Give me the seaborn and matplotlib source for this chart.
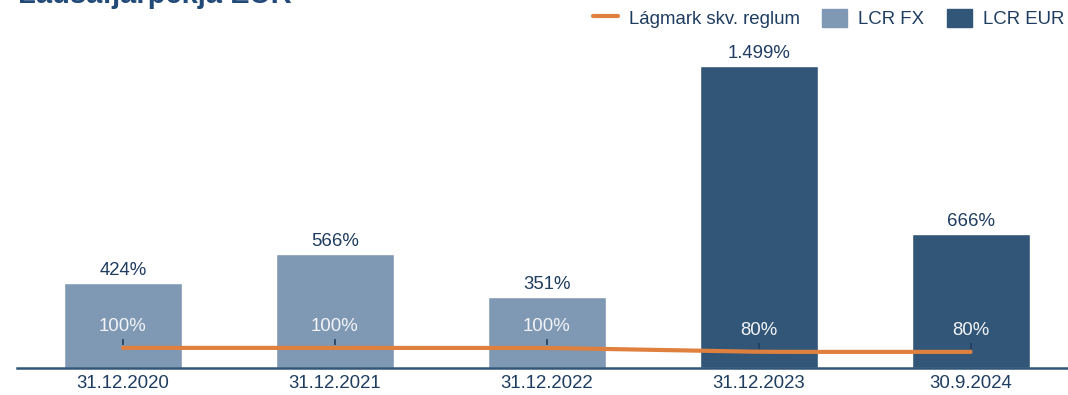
import matplotlib
matplotlib.use("Agg")
import matplotlib.pyplot as plt
import seaborn as sns
import pandas as pd
import numpy as np
from matplotlib.patches import Patch
from matplotlib.lines import Line2D

sns.set_theme(style="white")
plt.rcParams["font.family"] = ["Liberation Sans", "DejaVu Sans"]

# Data
dates = ["31.12.2020", "31.12.2021", "31.12.2022", "31.12.2023", "30.9.2024"]
lcr_values = [424, 566, 351, 1499, 666]
lcr_series = ["LCR FX", "LCR FX", "LCR FX", "LCR EUR", "LCR EUR"]
min_req = [100, 100, 100, 80, 80]
value_labels = ["424%", "566%", "351%", "1.499%", "666%"]
req_labels = ["100%", "100%", "100%", "80%", "80%"]
title = "Lausafjárþekja EUR"

c_fx = "#7f98b4"
c_eur = "#325677"
c_line = "#e0803f"
c_text = "#1f3d60"
fs = 13.4

df = pd.DataFrame({"date": dates, "value": lcr_values, "series": lcr_series})

fig = plt.figure(figsize=(10.68, 3.95), dpi=100)
ax = fig.add_axes([17 / 1068, 27 / 395, 1 - 17 / 1068 + 0.008, 1 - 27 / 395 - 0.02])

sns.barplot(data=df, x="date", y="value", hue="series", dodge=False,
            palette={"LCR FX": c_fx, "LCR EUR": c_eur}, width=0.557,
            ax=ax, legend=False, saturation=1)

x = np.arange(len(dates))
# smooth the regulatory minimum line slightly between points
xs = np.linspace(x[0], x[-1], 200)
ys = np.interp(xs, x, min_req)
k = 15
ker = np.ones(k) / k
ypad = np.concatenate([np.full(k, ys[0]), ys, np.full(k, ys[-1])])
ys_s = np.convolve(ypad, ker, mode="same")[k:-k]
ax.plot(xs, ys_s, color=c_line, lw=3, solid_capstyle="round", zorder=3)

for xi, v, lab in zip(x, lcr_values, value_labels):
    ax.text(xi, v + 20, lab, ha="center", va="bottom", fontsize=fs, color=c_text)
for xi, v, lab in zip(x, min_req, req_labels):
    ax.text(xi, v + 66, lab, ha="center", va="bottom", fontsize=fs, color="#f2f4f7", zorder=4)
    ax.vlines(xi, v + 12, v + 45, color=c_text, lw=1.2, zorder=2.5)

ax.set_xlim(-0.5, 4.5)
ax.set_ylim(0, 1499 * (1 - 27 / 395 - 0.02) * 395 / 302)
ax.set_xlabel("")
ax.set_ylabel("")
ax.set_yticks([])
for s in ["top", "right", "left"]:
    ax.spines[s].set_visible(False)
ax.spines["bottom"].set_color(c_eur)
ax.spines["bottom"].set_linewidth(1.8)
ax.tick_params(axis="x", length=0, labelsize=fs, labelcolor=c_text, pad=5)

handles = [Line2D([0], [0], color=c_line, lw=3),
           Patch(color=c_fx), Patch(color=c_eur)]
fig.legend(handles, ["Lágmark skv. reglum", "LCR FX", "LCR EUR"],
           loc="upper right", bbox_to_anchor=(1.012, 1.02), ncol=3, frameon=False,
           fontsize=fs, labelcolor=c_text, handlelength=1.34, handleheight=1.1,
           columnspacing=1.2, handletextpad=0.6)

fig.text(18 / 1068, 1 - 3 / 395, title, ha="left", va="baseline", fontsize=21,
         fontweight="bold", color="#214a78")

fig.savefig("out.png", dpi=100)
